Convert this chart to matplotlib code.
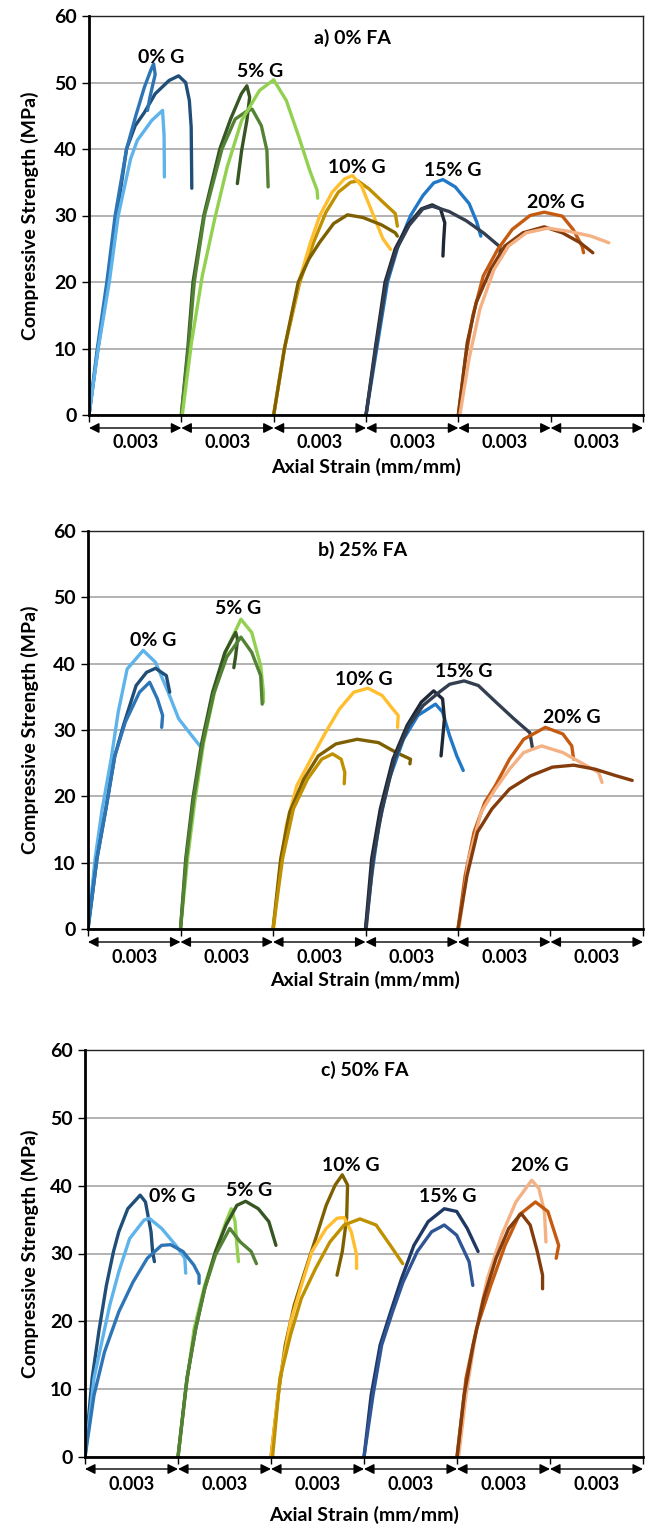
import matplotlib
matplotlib.use("Agg")
import matplotlib.pyplot as plt
from matplotlib.transforms import blended_transform_factory

plt.rcParams['font.family'] = ['Lato', 'DejaVu Sans']
plt.rcParams['font.weight'] = 'bold'

# strain is in units of 0.001 mm/mm, measured from the start of each group
SEG = 0.003
group_names = ["0% G", "5% G", "10% G", "15% G", "20% G"]
panel_titles = ["a) 0% FA", "b) 25% FA", "c) 50% FA"]

# ---------------- a) 0% FA ----------------
a_g0 = [
    ([0, 0.29, 0.62, 0.90, 1.22, 1.50, 1.80, 2.15, 2.60, 2.91, 3.14, 3.26, 3.32, 3.34],
     [0, 10, 20, 30, 40, 43.5, 45.5, 48.3, 50.3, 51.0, 50.0, 47.3, 43.3, 34.1]),
    ([0, 0.27, 0.58, 0.85, 1.22, 1.52, 1.80, 2.02, 2.10, 2.15, 1.98, 1.90],
     [0, 10, 20, 30, 40, 45.0, 49.3, 52.0, 52.8, 51.2, 47.8, 45.8]),
    ([0, 0.30, 0.66, 0.95, 1.35, 1.57, 2.04, 2.39, 2.44, 2.45],
     [0, 10, 20, 30, 38.5, 41.3, 44.3, 45.8, 42.0, 35.8]),
]
a_g5 = [
    ([0, 0.21, 0.38, 0.73, 1.25, 1.60, 1.95, 2.13, 2.22, 2.13, 1.96, 1.82],
     [0, 10, 20, 30, 40, 44.5, 48.3, 49.5, 47.8, 44.3, 39.8, 34.8]),
    ([0, 0.23, 0.42, 0.75, 1.32, 1.75, 2.10, 2.30, 2.60, 2.78, 2.82],
     [0, 10, 20, 30, 40, 44.5, 45.6, 46.0, 43.5, 39.8, 34.3]),
    ([0.03, 0.33, 0.68, 1.08, 1.49, 1.96, 2.54, 3.00, 3.41, 3.82, 4.17, 4.41, 4.43],
     [0, 10.9, 20.9, 29.4, 37.3, 44.3, 48.8, 50.4, 47.3, 41.8, 36.8, 33.8, 32.6]),
]
a_g10 = [
    ([0, 0.35, 0.85, 1.30, 1.70, 2.10, 2.50, 2.74, 3.10, 3.60, 3.95, 4.02],
     [0, 10, 20, 26, 30.5, 33.5, 35.0, 35.2, 34.0, 31.8, 30.3, 28.4]),
    ([0, 0.35, 0.82, 1.20, 1.50, 1.90, 2.30, 2.56, 2.85, 3.20, 3.55, 3.80],
     [0, 10, 20, 26, 30, 33.5, 35.5, 36.0, 34.5, 30.5, 26.5, 24.9]),
    ([0, 0.35, 0.80, 1.15, 1.50, 1.95, 2.40, 2.90, 3.50, 3.95, 4.02],
     [0, 10, 20, 23.5, 26, 28.8, 30.1, 29.7, 28.6, 27.4, 26.9]),
]
a_g15 = [
    ([0, 0.35, 0.70, 1.05, 1.45, 1.85, 2.20, 2.50, 2.90, 3.35, 3.60, 3.73],
     [0, 10, 20, 25.5, 30, 33, 34.9, 35.4, 34.3, 31.8, 29.0, 26.9]),
    ([0, 0.30, 0.62, 0.95, 1.35, 1.80, 2.15, 2.42, 2.56, 2.52, 2.50],
     [0, 10, 20, 25, 28.5, 31, 31.6, 31.0, 28.9, 26.0, 23.9]),
    ([0, 0.32, 0.66, 1.00, 1.40, 1.85, 2.15, 2.70, 3.26, 3.84, 4.35, 4.37],
     [0, 10, 20, 25, 28.5, 31, 31.4, 30.6, 29.2, 27.3, 25.3, 23.6]),
]
a_g20 = [
    ([0, 0.23, 0.47, 0.81, 1.28, 1.75, 2.33, 2.79, 3.38, 3.73, 4.02, 4.07],
     [0, 8.5, 14.9, 20.9, 24.9, 27.9, 30.0, 30.5, 29.9, 27.9, 25.4, 24.4]),
    ([0, 0.29, 0.58, 1.05, 1.51, 2.10, 2.79, 3.38, 3.96, 4.37],
     [0, 10.9, 16.9, 21.9, 25.4, 27.4, 28.3, 27.4, 25.9, 24.4]),
    ([0.05, 0.35, 0.70, 1.16, 1.63, 2.21, 2.91, 3.61, 4.31, 4.89],
     [0, 8.5, 15.9, 21.9, 25.4, 27.4, 28.1, 27.6, 26.9, 25.9]),
]

# ---------------- b) 25% FA ----------------
b_g0 = [
    ([0, 0.23, 0.46, 0.75, 0.98, 1.27, 1.79, 2.19, 2.60, 2.94, 3.29, 3.63],
     [0, 10.6, 18.1, 25.6, 32.7, 39.2, 42.0, 40.2, 35.7, 31.7, 29.6, 27.6]),
    ([0, 0.29, 0.58, 0.87, 1.15, 1.56, 1.90, 2.19, 2.54, 2.65],
     [0, 10.6, 18.1, 26.1, 30.7, 36.7, 38.7, 39.3, 38.2, 35.7]),
    ([0, 0.29, 0.58, 0.87, 1.21, 1.67, 2.00, 2.25, 2.42, 2.39],
     [0, 10.6, 18.1, 26.1, 31.2, 35.7, 37.2, 34.7, 32.2, 30.4]),
]
b_g5 = [
    ([0, 0.23, 0.46, 0.75, 1.10, 1.50, 1.96, 2.31, 2.60, 2.69, 2.69],
     [0, 10.6, 19.1, 28.1, 35.7, 42.2, 46.7, 44.7, 39.7, 35.7, 34.2]),
    ([0, 0.17, 0.40, 0.69, 1.04, 1.44, 1.79, 1.85, 1.79, 1.73],
     [0, 10.6, 19.6, 28.1, 35.7, 41.7, 44.7, 43.7, 41.2, 39.4]),
    ([0, 0.19, 0.42, 0.72, 1.08, 1.50, 1.96, 2.31, 2.60, 2.65],
     [0, 10.6, 19.4, 28.0, 35.5, 41.0, 44.0, 41.7, 38.2, 33.9]),
]
b_g10 = [
    ([0.02, 0.20, 0.43, 0.77, 1.23, 1.70, 2.16, 2.62, 3.08, 3.54, 3.88, 4.06, 4.04],
     [0, 8.0, 15.6, 21.6, 25.6, 29.6, 33.2, 35.7, 36.3, 35.2, 33.2, 32.2, 30.4]),
    ([0, 0.25, 0.54, 1.00, 1.47, 2.04, 2.73, 3.42, 4.00, 4.46, 4.44],
     [0, 10.6, 17.6, 22.6, 26.1, 27.9, 28.6, 28.1, 26.6, 25.6, 24.9]),
    ([0, 0.31, 0.66, 1.12, 1.58, 1.93, 2.21, 2.33, 2.31],
     [0, 10.6, 18.1, 22.6, 25.6, 26.4, 25.6, 23.6, 21.9]),
]
b_g15 = [
    ([0, 0.20, 0.43, 0.77, 1.23, 1.70, 2.27, 2.50, 2.73, 2.96, 3.17],
     [0, 8.0, 15.6, 22.6, 28.6, 32.2, 33.9, 32.7, 29.1, 26.1, 23.9]),
    ([0, 0.20, 0.48, 0.89, 1.35, 1.81, 2.21, 2.50, 2.56, 2.50, 2.45],
     [0, 10.6, 18.1, 25.6, 30.7, 34.2, 35.9, 34.7, 31.7, 28.6, 26.1]),
    ([0.02, 0.25, 0.54, 0.94, 1.41, 1.87, 2.39, 2.73, 3.20, 3.66, 4.23, 4.81, 5.33, 5.41],
     [0, 10.6, 18.1, 25.6, 30.7, 33.7, 35.7, 36.9, 37.4, 36.7, 34.2, 31.7, 29.6, 27.4]),
]
b_g20 = [
    ([0, 0.23, 0.52, 0.87, 1.21, 1.67, 2.13, 2.83, 3.40, 3.69, 3.75],
     [0, 8.0, 14.6, 19.1, 21.6, 25.6, 28.6, 30.4, 29.4, 27.6, 25.6]),
    ([0.03, 0.35, 0.75, 1.21, 1.67, 2.13, 2.71, 3.40, 3.98, 4.56, 4.67],
     [0, 10.6, 17.6, 21.1, 24.1, 26.6, 27.6, 26.6, 25.1, 23.6, 22.1]),
    ([0, 0.29, 0.63, 1.10, 1.67, 2.36, 3.06, 3.75, 4.44, 5.13, 5.65],
     [0, 8.0, 14.6, 18.1, 21.1, 23.1, 24.4, 24.7, 24.1, 23.1, 22.4]),
]

# ---------------- c) 50% FA ----------------
c_g0 = [
    ([0, 0.23, 0.46, 0.69, 0.92, 1.09, 1.38, 1.78, 1.95, 2.13, 2.18, 2.24],
     [0, 11.6, 18.9, 25.3, 30.3, 33.2, 36.6, 38.6, 37.6, 33.2, 30.3, 28.8]),
    ([0, 0.29, 0.52, 0.80, 1.09, 1.44, 1.90, 2.07, 2.47, 2.93, 3.22, 3.25],
     [0, 11.6, 16.5, 22.4, 27.3, 32.2, 34.9, 35.2, 33.7, 31.2, 29.3, 27.1]),
    ([0, 0.29, 0.63, 1.09, 1.55, 2.01, 2.47, 2.76, 3.16, 3.51, 3.68, 3.68],
     [0, 9.1, 15.5, 21.4, 25.8, 29.3, 31.2, 31.3, 30.3, 28.3, 26.8, 25.6]),
]
c_g5 = [
    ([0, 0.23, 0.52, 0.86, 1.21, 1.55, 1.72, 1.84, 1.90, 1.95],
     [0, 9.1, 18.9, 25.3, 30.3, 34.7, 36.6, 34.7, 31.2, 28.8]),
    ([0, 0.29, 0.57, 0.86, 1.21, 1.55, 1.90, 2.18, 2.59, 2.93, 3.16],
     [0, 11.6, 18.9, 24.8, 30.3, 34.2, 37.1, 37.7, 36.6, 34.7, 31.2]),
    ([0, 0.29, 0.57, 0.86, 1.21, 1.67, 2.01, 2.36, 2.53],
     [0, 11.6, 18.9, 24.8, 29.8, 33.7, 31.7, 30.3, 28.5]),
]
c_g10 = [
    ([0, 0.23, 0.46, 0.75, 1.09, 1.44, 1.78, 2.07, 2.30, 2.47, 2.44, 2.30, 2.13],
     [0, 9.1, 16.5, 22.4, 27.3, 32.2, 37.1, 40.1, 41.6, 40.1, 35.2, 30.3, 26.8]),
    ([0, 0.29, 0.63, 0.98, 1.32, 1.78, 2.13, 2.36, 2.59, 2.76, 2.76],
     [0, 11.6, 19.9, 25.3, 30.3, 33.7, 35.2, 35.3, 33.2, 29.8, 27.8]),
    ([0.05, 0.29, 0.63, 0.98, 1.44, 1.90, 2.36, 2.87, 3.39, 3.85, 4.25],
     [0, 11.6, 18.0, 23.4, 27.8, 31.7, 34.2, 35.1, 34.2, 31.2, 28.5]),
]
c_g15 = [
    ([0, 0.23, 0.52, 0.86, 1.21, 1.61, 2.07, 2.59, 2.99, 3.33, 3.68],
     [0, 9.1, 16.5, 21.4, 26.3, 31.2, 34.7, 36.6, 36.2, 33.7, 30.3]),
    ([0, 0.29, 0.57, 0.92, 1.26, 1.72, 2.18, 2.59, 2.99, 3.39, 3.51],
     [0, 9.1, 16.5, 21.4, 25.8, 30.3, 33.2, 34.2, 32.7, 28.8, 25.3]),
]
c_g20 = [
    ([0.05, 0.29, 0.63, 0.98, 1.44, 1.90, 2.41, 2.64, 2.82, 2.87],
     [0, 9.1, 18.9, 26.3, 32.7, 37.6, 40.8, 39.6, 36.2, 31.7]),
    ([0, 0.29, 0.63, 1.09, 1.55, 2.01, 2.53, 2.93, 3.28, 3.20],
     [0, 11.6, 18.9, 25.3, 31.2, 35.7, 37.6, 36.2, 31.2, 29.3]),
    ([0, 0.23, 0.52, 0.86, 1.26, 1.67, 2.07, 2.36, 2.59, 2.76, 2.76],
     [0, 9.1, 16.5, 23.4, 29.3, 33.7, 35.9, 34.2, 30.3, 26.8, 24.8]),
]

# line colours, one list per group
a_colors = [["#1F4E79", "#2E75B6", "#5DB3EA"],
            ["#375623", "#548235", "#92D050"],
            ["#BF9000", "#FFBE2E", "#7F6000"],
            ["#2178C8", "#1E2836", "#333F50"],
            ["#C55A11", "#843C0C", "#F4B183"]]
b_colors = [["#5DB3EA", "#1F4E79", "#2E75B6"],
            ["#92D050", "#375623", "#548235"],
            ["#FFBE2E", "#7F6000", "#BF9000"],
            ["#2178C8", "#1E2836", "#333F50"],
            ["#C55A11", "#F4B183", "#843C0C"]]
c_colors = [["#1F4E79", "#5DB3EA", "#2E75B6"],
            ["#92D050", "#375623", "#548235"],
            ["#7F6000", "#FFBE2E", "#BF9000"],
            ["#203864", "#2F5597"],
            ["#F4B183", "#C55A11", "#843C0C"]]

# group label anchors (absolute strain x 0.001, stress)
a_labels = [(2.36, 53.7), (5.55, 51.6), (8.70, 37.2), (11.82, 36.8), (15.17, 31.9)]
b_labels = [(2.10, 43.5), (4.87, 48.3), (8.96, 37.6), (12.19, 38.8), (15.69, 31.9)]
c_labels = [(2.82, 38.4), (5.29, 39.3), (8.59, 42.9), (11.69, 38.4), (14.66, 42.9)]
title_pos = [(8.56, 56.7), (8.90, 57.2), (9.02, 57.1)]

panels = [
    ([a_g0, a_g5, a_g10, a_g15, a_g20], a_colors, a_labels),
    ([b_g0, b_g5, b_g10, b_g15, b_g20], b_colors, b_labels),
    ([c_g0, c_g5, c_g10, c_g15, c_g20], c_colors, c_labels),
]

W, H = 649, 1531
# axes boxes in pixels: left, right, top, bottom
boxes = [(89, 643, 16, 415), (88, 643, 531, 929), (85, 643, 1050, 1457)]
# offsets below the axis (px): arrows, 0.003 labels, axis title
below = [(13, 28, 52), (13, 28, 51), (12, 28, 58)]

fig = plt.figure(figsize=(W / 100, H / 100), dpi=100)

for p, (groups, colors, labels) in enumerate(panels):
    l, r, t, b = boxes[p]
    ax = fig.add_axes([l / W, 1 - b / H, (r - l) / W, (b - t) / H])
    hpx = b - t

    for g, curves in enumerate(groups):
        for c, (eps, sig) in enumerate(curves):
            x = [(g * 3 + e) * 1e-3 for e in eps]
            ax.plot(x, sig, color=colors[g][c], lw=2.4, solid_capstyle='round',
                    solid_joinstyle='round', zorder=3)
        lx, ly = labels[g]
        ax.text(lx * 1e-3, ly, group_names[g], ha='center', va='center',
                fontsize=14, fontweight='bold', zorder=5)

    tx, ty = title_pos[p]
    ax.text(tx * 1e-3, ty, panel_titles[p], ha='center', va='center',
            fontsize=14, fontweight='bold')

    ax.set_xlim(0, 6 * SEG)
    ax.set_ylim(0, 60)
    ax.set_yticks(range(0, 61, 10))
    ax.set_xticks([i * SEG for i in range(7)])
    ax.set_xticklabels([])
    ax.grid(axis='y', color='#A6A6A6', lw=1.2, zorder=0)
    ax.tick_params(axis='y', direction='out', length=5, width=1, labelsize=14, pad=4)
    ax.tick_params(axis='x', direction='out', length=5, width=1)
    for lab in ax.get_yticklabels():
        lab.set_fontweight('bold')
    for side in ['left', 'bottom']:
        ax.spines[side].set_linewidth(2)
        ax.spines[side].set_zorder(4)
    for side in ['top', 'right']:
        ax.spines[side].set_linewidth(1)
        ax.spines[side].set_color('#222222')

    trans = blended_transform_factory(ax.transData, ax.transAxes)
    ya = -below[p][0] / hpx
    yl = -below[p][1] / hpx
    yt = -below[p][2] / hpx
    for i in range(6):
        ax.annotate('', xy=((i + 1) * SEG, ya), xytext=(i * SEG, ya), xycoords=trans,
                    textcoords=trans, annotation_clip=False,
                    arrowprops=dict(arrowstyle='<|-|>', color='black', lw=1,
                                    mutation_scale=15, shrinkA=0, shrinkB=0))
        ax.text((i + 0.5) * SEG, yl, '0.003', transform=trans, ha='center', va='center',
                fontsize=13, fontweight='bold')
    ax.text(0.5, yt, 'Axial Strain (mm/mm)', transform=ax.transAxes, ha='center',
            va='center', fontsize=14, fontweight='bold')

    fig.text(30 / W, 1 - (t + b) / 2 / H, 'Compressive Strength (MPa)', rotation=90,
             ha='center', va='center', fontsize=14, fontweight='bold')

fig.savefig('out.png', dpi=100)
